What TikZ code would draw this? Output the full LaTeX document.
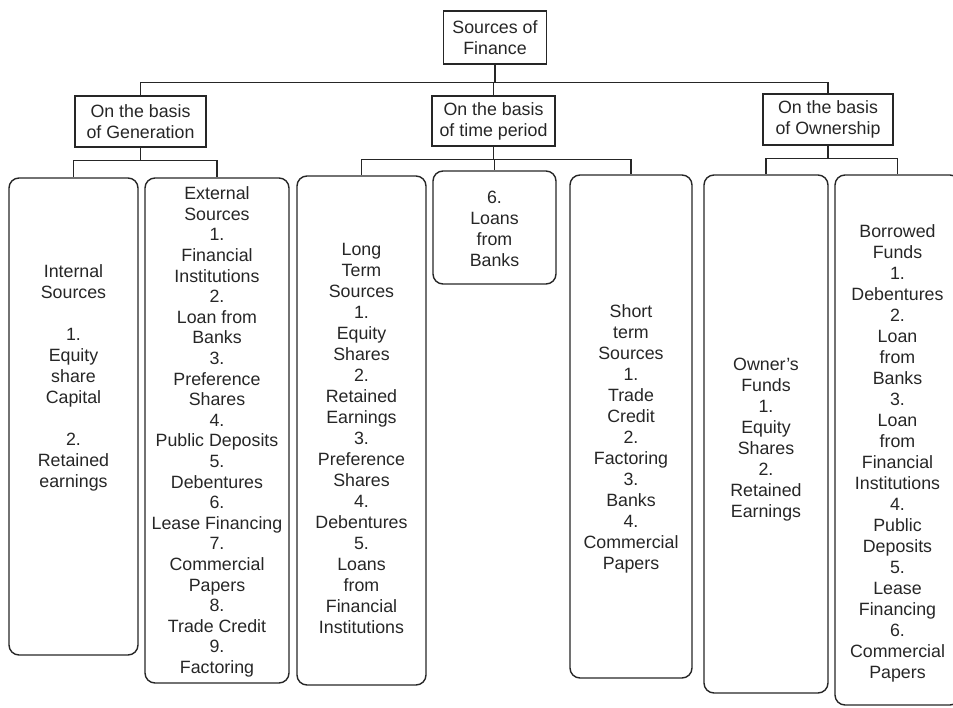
\documentclass[tikz,border=0pt]{standalone}
\usepackage{fontspec}
\setmainfont{Liberation Sans}
\tikzset{
  head/.style={draw, line width=1.4pt, align=center, inner sep=0pt, font=\fontsize{17.8}{21}\selectfont},
  leaf/.style={draw, line width=1.4pt, rounded corners=10pt, inner sep=0pt},
  txt/.style={align=center, inner sep=0pt, font=\fontsize{17.8}{21}\selectfont},
}
\begin{document}
\begin{tikzpicture}[x=1pt, y=-1pt, line width=1.3pt, color=black!85]
\useasboundingbox (0,0) rectangle (953,707);
\clip (0,0) rectangle (953,707);
%\draw[help lines] (0,0) grid[step=50] (953,707);

\node[head, minimum width=103pt, minimum height=53pt] (root) at (495,37.5) {Sources of\\Finance};
\node[head, minimum width=131pt, minimum height=51pt] (gen) at (140.5,121.5) {On the basis\\of Generation};
\node[head, minimum width=123pt, minimum height=50pt] (time) at (493.5,121) {On the basis\\of time period};
\node[head, minimum width=130pt, minimum height=51pt] (own) at (828,119.5) {On the basis\\of Ownership};

\foreach \w/\h/\x/\y/\n in {129/477/73.5/416.5/int, 144/505/217/430.5/ext, 129/509/361.5/430.5/long,
  123/113/494.5/227.5/six, 122/503/631/426.5/short, 124/518/766/434/owf, 125/530/897.5/440/bor}
  \node[leaf, minimum width=\w pt, minimum height=\h pt] (\n) at (\x,\y) {};

\node[txt] (inttxt) at (73.5,377.5) {Internal\\Sources\\[21pt]1.\\Equity\\share\\Capital\\[21pt]2.\\Retained\\earnings};
\node[txt, font=\fontsize{17.8}{20.6}\selectfont] (exttxt) at (217,432) {External\\Sources\\1.\\Financial\\Institutions\\2.\\Loan from\\Banks\\3.\\Preference\\Shares\\4.\\Public Deposits\\5.\\Debentures\\6.\\Lease Financing\\7.\\Commercial\\Papers\\8.\\Trade Credit\\9.\\Factoring};
\node[txt] (longtxt) at (361.5,438) {Long\\Term\\Sources\\1.\\Equity\\Shares\\2.\\Retained\\Earnings\\3.\\Preference\\Shares\\4.\\Debentures\\5.\\Loans\\from\\Financial\\Institutions};
\node[txt] (sixtxt) at (494.5,229) {6.\\Loans\\from\\Banks};
\node[txt] (shorttxt) at (631,439) {Short\\term\\Sources\\1.\\Trade\\Credit\\2.\\Factoring\\3.\\Banks\\4.\\Commercial\\Papers};
\node[txt] (owftxt) at (766,439.5) {Owner's\\Funds\\1.\\Equity\\Shares\\2.\\Retained\\Earnings};
\node[txt] (bortxt) at (897.5,453) {Borrowed\\Funds\\1.\\Debentures\\2.\\Loan\\from\\Banks\\3.\\Loan\\from\\Financial\\Institutions\\4.\\Public\\Deposits\\5.\\Lease\\Financing\\6.\\Commercial\\Papers};

\foreach \c in {gen, time, own}
  \draw (root.south) -- ++(0,18) -| (\c.north);
\foreach \p/\c in {gen/int, gen/ext, time/long, time/six, time/short, own/owf, own/bor}
  \draw (\p.south) -- ++(0,13) -| (\c.north);
\end{tikzpicture}
\end{document}
